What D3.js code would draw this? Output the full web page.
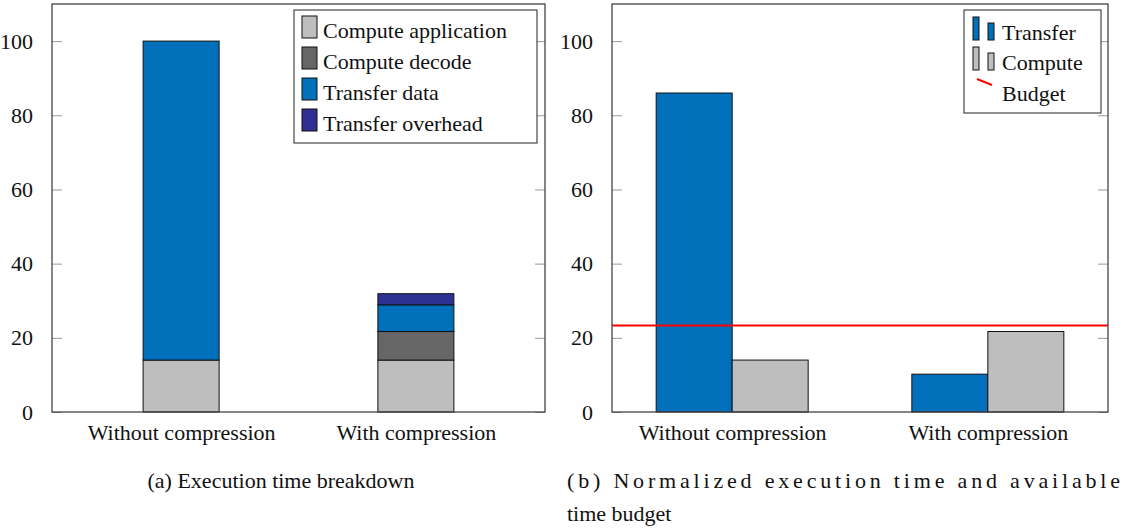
<!DOCTYPE html>
<html>
<head>
<meta charset="utf-8">
<script src="https://cdn.jsdelivr.net/npm/d3@7"></script>
<style>
  body { margin: 0; background: #fff; }
  svg text { font-family: "Liberation Serif", "DejaVu Serif", serif; fill: #111; }
</style>
</head>
<body>
<svg id="chart" width="1125" height="529"></svg>
<script>
// categories and values
const categories = ["Without compression", "With compression"];
const yTicks = [0, 20, 40, 60, 80, 100];

// (a) stacked breakdown
const breakdownSeries = ["Compute application", "Compute decode", "Transfer data", "Transfer overhead"];
const computeApplication = [14, 14];
const computeDecode = [0, 7.7];
const transferData = [86, 7.2];
const transferOverhead = [0, 3];

// (b) grouped normalized time
const groupedSeries = ["Transfer", "Compute"];
const transferTime = [86, 10.2];
const computeTime = [14, 21.7];
const budget = 23.3;

const colors = {
  "Compute application": "#bebebe",
  "Compute decode": "#666666",
  "Transfer data": "#0070ba",
  "Transfer overhead": "#2e3192",
  "Transfer": "#0070ba",
  "Compute": "#bebebe"
};

const svg = d3.select("#chart");
const fontSize = 22;

function makeFrame(x0, x1, y0, y1, padding) {
  const y = d3.scaleLinear().domain([0, 110]).range([y1, y0]);
  const x = d3.scalePoint().domain(categories).range([x0, x1]).padding(padding);
  const g = svg.append("g");

  // inner ticks left and right
  g.append("g")
    .attr("transform", `translate(${x0},0)`)
    .call(d3.axisLeft(y).tickValues(yTicks).tickSize(-10).tickPadding(19))
    .call(a => a.select(".domain").remove())
    .call(a => a.selectAll("line").attr("stroke", "#999"))
    .call(a => a.selectAll("text").attr("font-size", fontSize).attr("font-family", "Liberation Serif").attr("fill", "#111"));
  g.append("g")
    .attr("transform", `translate(${x1},0)`)
    .call(d3.axisRight(y).tickValues(yTicks).tickSize(-10).tickFormat(""))
    .call(a => a.select(".domain").remove())
    .call(a => a.selectAll("line").attr("stroke", "#999"));

  // category labels
  g.append("g")
    .attr("transform", `translate(0,${y1})`)
    .call(d3.axisBottom(x).tickSize(0).tickPadding(12))
    .call(a => a.select(".domain").remove())
    .call(a => a.selectAll("text").attr("font-size", fontSize).attr("font-family", "Liberation Serif").attr("fill", "#111"));

  return { g, x, y, x0, x1, y0, y1 };
}

function drawBox(f) {
  f.g.append("rect")
    .attr("x", f.x0).attr("y", f.y0)
    .attr("width", f.x1 - f.x0).attr("height", f.y1 - f.y0)
    .attr("fill", "none").attr("stroke", "#444").attr("stroke-width", 1.3);
}

// ---------- (a) ----------
const fa = makeFrame(52, 545, 4, 412, 0.55);
const barW = 76;
const stackRows = categories.map((c, i) => ({
  category: c,
  "Compute application": computeApplication[i],
  "Compute decode": computeDecode[i],
  "Transfer data": transferData[i],
  "Transfer overhead": transferOverhead[i]
}));
const stacked = d3.stack().keys(breakdownSeries)(stackRows);
fa.g.selectAll(".layer")
  .data(stacked)
  .join("g")
  .attr("fill", d => colors[d.key])
  .selectAll("rect")
  .data(d => d.filter(s => s[1] - s[0] > 0))
  .join("rect")
  .attr("x", d => fa.x(d.data.category) - barW / 2)
  .attr("y", d => fa.y(d[1]))
  .attr("width", barW)
  .attr("height", d => fa.y(d[0]) - fa.y(d[1]))
  .attr("stroke", "#111")
  .attr("stroke-width", 1);
drawBox(fa);

// legend (a)
const legA = svg.append("g");
legA.append("rect").attr("x", 294).attr("y", 10).attr("width", 243).attr("height", 133)
  .attr("fill", "#fff").attr("stroke", "#222").attr("stroke-width", 1);
breakdownSeries.forEach((s, i) => {
  const yy = 16 + i * 31;
  legA.append("rect").attr("x", 302).attr("y", yy).attr("width", 15).attr("height", 22)
    .attr("fill", colors[s]).attr("stroke", "#111").attr("stroke-width", 1);
  legA.append("text").attr("x", 323).attr("y", yy + 22).attr("font-size", fontSize).text(s);
});

// ---------- (b) ----------
const fb = makeFrame(612, 1108, 4, 412, 0.47);
const grouped = [];
categories.forEach((c, i) => {
  grouped.push({ category: c, series: "Transfer", value: transferTime[i], side: -1 });
  grouped.push({ category: c, series: "Compute", value: computeTime[i], side: 0 });
});
fb.g.selectAll(".gbar")
  .data(grouped)
  .join("rect")
  .attr("x", d => fb.x(d.category) + d.side * barW)
  .attr("y", d => fb.y(d.value))
  .attr("width", barW)
  .attr("height", d => fb.y(0) - fb.y(d.value))
  .attr("fill", d => colors[d.series])
  .attr("stroke", "#111")
  .attr("stroke-width", 1);
fb.g.append("line")
  .attr("x1", fb.x0).attr("x2", fb.x1)
  .attr("y1", fb.y(budget)).attr("y2", fb.y(budget))
  .attr("stroke", "#ff0000").attr("stroke-width", 2);
drawBox(fb);

// legend (b)
const legB = svg.append("g");
legB.append("rect").attr("x", 964).attr("y", 10).attr("width", 137).attr("height", 103)
  .attr("fill", "#fff").attr("stroke", "#222").attr("stroke-width", 1);
groupedSeries.forEach((s, i) => {
  const base = 40 + i * 30;
  legB.append("rect").attr("x", 973).attr("y", base - 23).attr("width", 6).attr("height", 23)
    .attr("fill", colors[s]).attr("stroke", "#111").attr("stroke-width", 1);
  legB.append("rect").attr("x", 988).attr("y", base - 17).attr("width", 6).attr("height", 17)
    .attr("fill", colors[s]).attr("stroke", "#111").attr("stroke-width", 1);
  legB.append("text").attr("x", 1002).attr("y", base).attr("font-size", fontSize).text(s);
});
legB.append("line").attr("x1", 977).attr("y1", 79).attr("x2", 992).attr("y2", 85)
  .attr("stroke", "#ff0000").attr("stroke-width", 2);
legB.append("text").attr("x", 1002).attr("y", 101).attr("font-size", fontSize).text("Budget");

// captions
svg.append("text").attr("x", 281).attr("y", 488).attr("text-anchor", "middle")
  .attr("font-size", fontSize).text("(a) Execution time breakdown");
svg.append("text").attr("x", 567).attr("y", 488).attr("font-size", fontSize)
  .attr("textLength", 553).attr("lengthAdjust", "spacing")
  .text("(b) Normalized execution time and available");
svg.append("text").attr("x", 567).attr("y", 521).attr("font-size", fontSize)
  .text("time budget");
</script>
</body>
</html>
